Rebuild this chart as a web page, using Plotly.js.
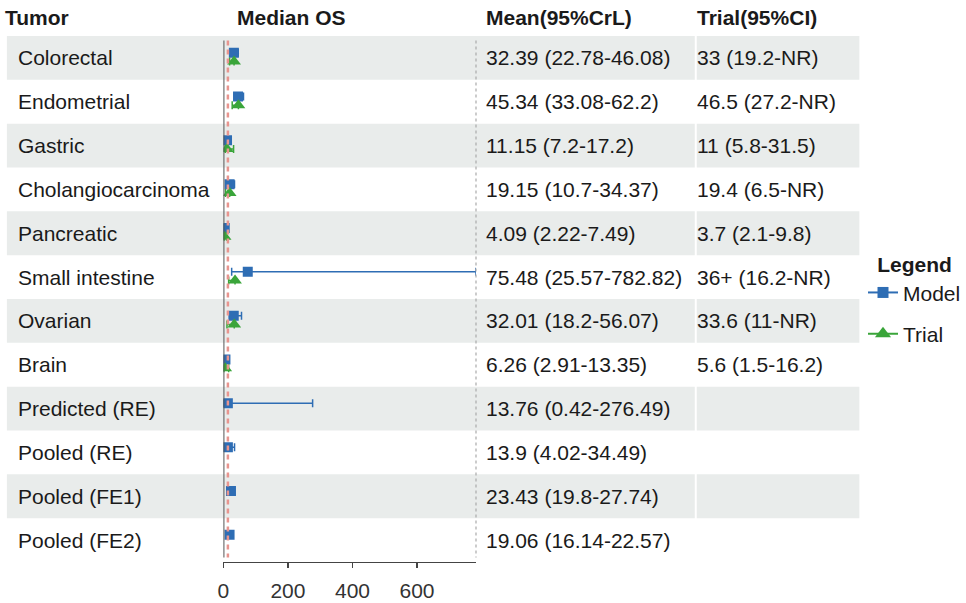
<!DOCTYPE html>
<html>
<head>
<meta charset="utf-8">
<script src="https://cdn.plot.ly/plotly-3.0.1.min.js"></script>
<style>html,body{margin:0;padding:0;background:#fff;overflow:hidden;}#chart{width:966px;height:603px;overflow:hidden;}</style>
</head>
<body>
<div id="chart"></div>
<script>
// ---- data ----
var tumors = ['Colorectal','Endometrial','Gastric','Cholangiocarcinoma','Pancreatic','Small intestine','Ovarian','Brain','Predicted (RE)','Pooled (RE)','Pooled (FE1)','Pooled (FE2)'];
var modelMean = [32.39, 45.34, 11.15, 19.15, 4.09, 75.48, 32.01, 6.26, 13.76, 13.9, 23.43, 19.06];
var modelLow  = [22.78, 33.08, 7.2, 10.7, 2.22, 25.57, 18.2, 2.91, 0.42, 4.02, 19.8, 16.14];
var modelHigh = [46.08, 62.2, 17.2, 34.37, 7.49, 782.82, 56.07, 13.35, 276.49, 34.49, 27.74, 22.57];
var trialMean = [33, 46.5, 11, 19.4, 3.7, 36, 33.6, 5.6, null, null, null, null];
var trialLow  = [19.2, 27.2, 5.8, 6.5, 2.1, 16.2, 11, 1.5, null, null, null, null];
var trialHigh = [null, null, 31.5, null, 9.8, null, null, 16.2, null, null, null, null]; // null = NR
var trialLabels = ['33 (19.2-NR)','46.5 (27.2-NR)','11 (5.8-31.5)','19.4 (6.5-NR)','3.7 (2.1-9.8)','36+ (16.2-NR)','33.6 (11-NR)','5.6 (1.5-16.2)','','','',''];
var referenceLineValue = modelMean[9]; // pooled (RE)
var xTicks = [0, 200, 400, 600];
var headers = {tumor: 'Tumor', plot: 'Median OS', model: 'Mean(95%CrL)', trial: 'Trial(95%CI)'};

// ---- styling ----
var W = 966, H = 603;
var FONT = 'Arial, "Liberation Sans", Helvetica, sans-serif';
var FS = 21;
var BLUE = '#2e6db4', GREEN = '#3aa53a', TXT = '#1a1a1a';
function px(x){ return x / W; }
function py(y){ return 1 - y / H; }

var idx = tumors.map(function(_, i){ return i; });
var modelY = idx.map(function(i){ return i - 0.12; });
var trialIdx = idx.filter(function(i){ return trialMean[i] !== null; });

var traces = [
  {
    type: 'scatter', mode: 'markers', showlegend: false,
    x: modelMean, y: modelY,
    marker: {symbol: 'square', size: 10, color: BLUE},
    error_x: {type: 'data', symmetric: false,
      array: idx.map(function(i){ return modelHigh[i] - modelMean[i]; }),
      arrayminus: idx.map(function(i){ return modelMean[i] - modelLow[i]; }),
      color: BLUE, thickness: 1.5, width: 4},
    hoverinfo: 'x'
  },
  {
    type: 'scatter', mode: 'markers', showlegend: false,
    x: trialIdx.map(function(i){ return trialMean[i]; }),
    y: trialIdx.map(function(i){ return i + 0.08; }),
    marker: {symbol: 'triangle-up', size: 12, color: GREEN},
    error_x: {type: 'data', symmetric: false,
      array: trialIdx.map(function(i){ return trialHigh[i] === null ? 0 : trialHigh[i] - trialMean[i]; }),
      arrayminus: trialIdx.map(function(i){ return trialMean[i] - trialLow[i]; }),
      color: GREEN, thickness: 1.5, width: 4},
    hoverinfo: 'x'
  },
  {type: 'scatter', mode: 'lines+markers', name: 'Model', legendgroup: 'm', x: [null], y: [null],
   marker: {symbol: 'square', size: 11, color: BLUE}, line: {color: BLUE, width: 2}},
  {type: 'scatter', mode: 'lines+markers', name: 'Trial', legendgroup: 't', x: [null], y: [null],
   marker: {symbol: 'triangle-up', size: 14, color: GREEN}, line: {color: GREEN, width: 2}}
];

var shapes = [];
idx.forEach(function(i){
  if (i % 2 === 0) {
    shapes.push({type: 'rect', layer: 'below', xref: 'paper', yref: 'y', x0: px(7), x1: px(705), y0: i - 0.5, y1: i + 0.5,
      fillcolor: '#e9eceb', line: {width: 0}});
    shapes.push({type: 'rect', layer: 'below', xref: 'paper', yref: 'y', x0: px(707), x1: px(872), y0: i - 0.5, y1: i + 0.5,
      fillcolor: '#e9eceb', line: {width: 0}});
  }
});
// zero line, reference line, right dotted border
shapes.push({type: 'line', xref: 'x', yref: 'y', x0: 0, x1: 0, y0: -0.4, y1: tumors.length - 0.6,
  line: {color: '#555', width: 2}});
shapes.push({type: 'line', xref: 'x', yref: 'y', x0: referenceLineValue, x1: referenceLineValue, y0: -0.4, y1: tumors.length - 0.6,
  line: {color: '#e8958f', width: 2.5, dash: '5px,4px'}});
shapes.push({type: 'line', xref: 'x domain', yref: 'y', x0: 1, x1: 1, y0: -0.4, y1: tumors.length - 0.6,
  line: {color: '#aaa', width: 1.2, dash: 'dot'}});

var annotations = [];
function ann(text, x, y, yref, bold){
  annotations.push({text: bold ? '<b>' + text + '</b>' : text, xref: 'paper', x: x, yref: yref, y: y,
    xanchor: 'left', yanchor: 'middle', showarrow: false, borderpad: 0, font: {family: FONT, size: FS, color: TXT}});
}
ann(headers.tumor, px(4), py(18), 'paper', true);
ann(headers.plot, px(239), py(18), 'paper', true);
ann(headers.model, px(492), py(18), 'paper', true);
ann(headers.trial, px(706), py(18), 'paper', true);
idx.forEach(function(i){
  ann(tumors[i], px(17), i, 'y', false);
  ann(modelMean[i] + ' (' + modelLow[i] + '-' + modelHigh[i] + ')', px(492), i, 'y', false);
  if (trialLabels[i]) ann(trialLabels[i], px(706), i, 'y', false);
});

var layout = {
  width: W, height: H,
  margin: {l: 0, r: 0, t: 0, b: 0},
  paper_bgcolor: '#fff', plot_bgcolor: 'rgba(0,0,0,0)',
  font: {family: FONT, size: FS, color: TXT},
  xaxis: {
    domain: [px(226.7), px(483)],
    range: [0, Math.max.apply(null, modelHigh)],
    tickvals: xTicks, ticktext: xTicks.map(String),
    ticks: 'outside', ticklen: 5, tickcolor: '#444', tickwidth: 1.2,
    showline: true, linecolor: '#444', linewidth: 1.2,
    showgrid: false, zeroline: false, automargin: false,
    ticklabelstandoff: 5,
    tickfont: {family: FONT, size: FS, color: '#333'}
  },
  yaxis: {
    domain: [py(562), py(36)],
    range: [tumors.length - 0.5, -0.5],
    visible: false, showgrid: false, zeroline: false, automargin: false
  },
  showlegend: true,
  legend: {
    x: px(876), y: py(245), xanchor: 'left', yanchor: 'top',
    bgcolor: 'rgba(0,0,0,0)',
    title: {text: '<b>Legend</b>', side: 'top center', font: {family: FONT, size: FS, color: TXT}},
    font: {family: FONT, size: FS, color: TXT},
    traceorder: 'grouped', tracegroupgap: 11, itemwidth: 30
  },
  shapes: shapes,
  annotations: annotations
};

Plotly.newPlot('chart', traces, layout, {displayModeBar: false, staticPlot: true});
</script>
</body>
</html>
